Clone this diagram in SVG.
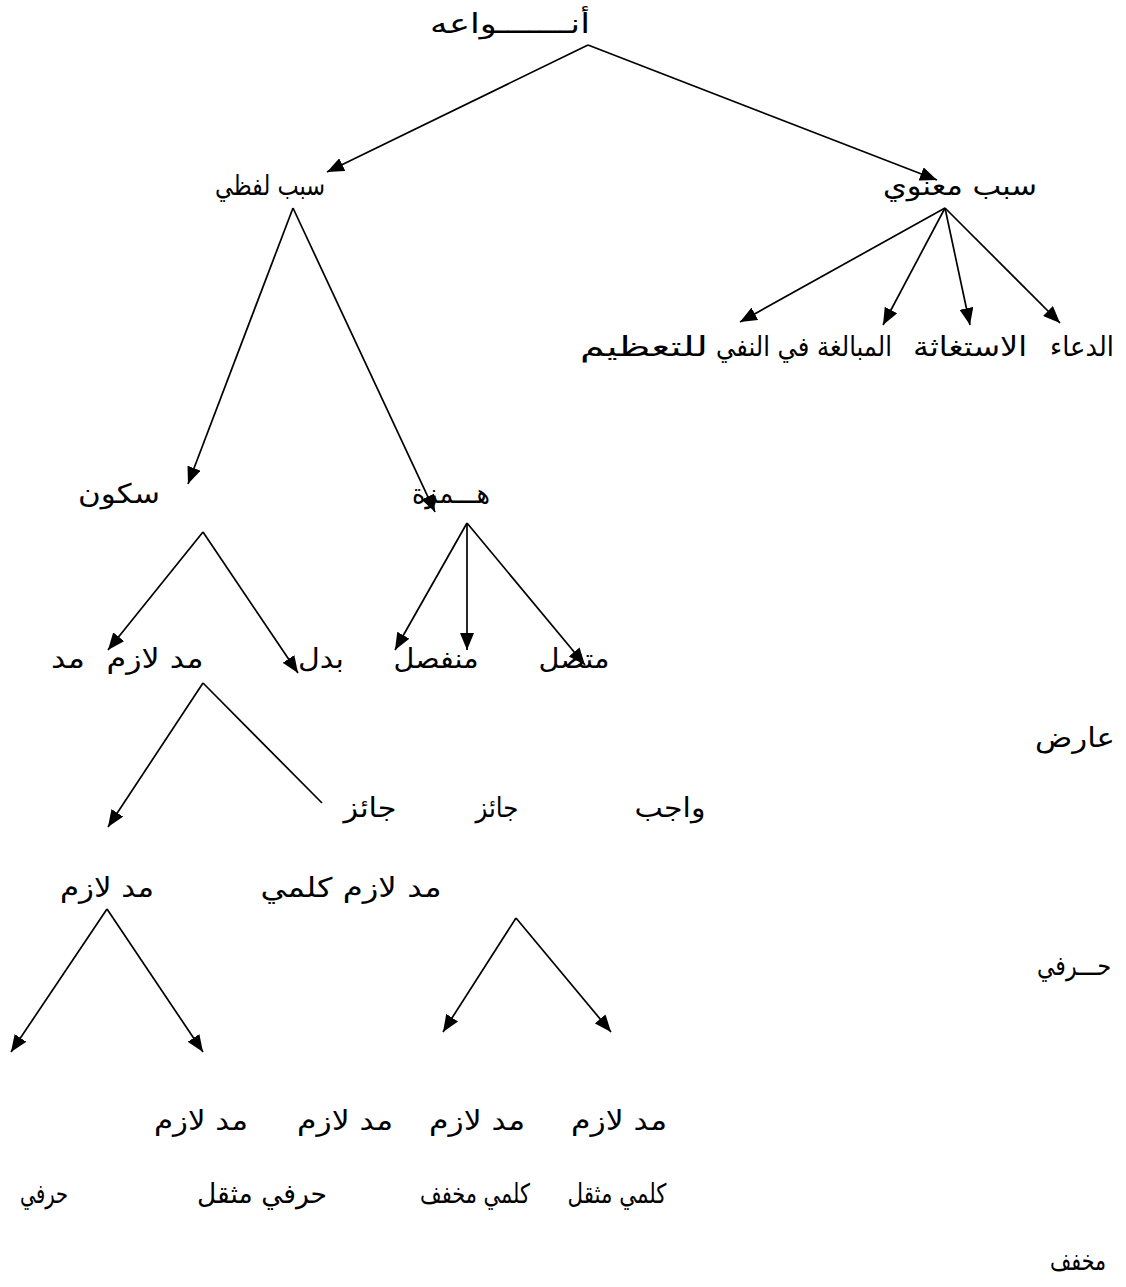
<svg xmlns="http://www.w3.org/2000/svg" width="1126" height="1287" viewBox="0 0 1126 1287">
<style>
text{font-family:"DejaVu Sans","Noto Sans",sans-serif;font-size:27px;fill:#000;text-anchor:middle;direction:rtl}
.c line{stroke:#000;stroke-width:1.7;fill:none}
.a{marker-end:url(#ah)}
</style>
<defs>
<marker id="ah" markerUnits="userSpaceOnUse" markerWidth="18" markerHeight="14" refX="17" refY="7" orient="auto">
<path d="M0,0 L17,7 L0,14 z" fill="#000"/>
</marker>
</defs>
<rect width="1126" height="1287" fill="#fff"/>
<g id="connectors" class="c">
<line class="a" x1="588" y1="45" x2="327" y2="172"/>
<line class="a" x1="588" y1="45" x2="937" y2="180"/>
<line class="a" x1="293" y1="208" x2="188" y2="484"/>
<line class="a" x1="293" y1="208" x2="435" y2="512"/>
<line class="a" x1="945" y1="208" x2="740" y2="322"/>
<line class="a" x1="945" y1="208" x2="883" y2="325"/>
<line class="a" x1="945" y1="208" x2="970" y2="325"/>
<line class="a" x1="945" y1="208" x2="1060" y2="323"/>
<line class="a" x1="203" y1="532" x2="108" y2="650"/>
<line class="a" x1="203" y1="532" x2="298" y2="673"/>
<line class="a" x1="467" y1="523" x2="395" y2="650"/>
<line class="a" x1="467" y1="523" x2="467" y2="650"/>
<line class="a" x1="467" y1="523" x2="585" y2="665"/>
<line class="a" x1="203" y1="683" x2="108" y2="827"/>
<line x1="203" y1="683" x2="322" y2="803"/>
<line class="a" x1="107" y1="909" x2="11" y2="1052"/>
<line class="a" x1="107" y1="909" x2="203" y2="1052"/>
<line class="a" x1="516" y1="918" x2="443" y2="1032"/>
<line class="a" x1="516" y1="918" x2="611" y2="1032"/>
</g>
<g id="n-anwa"><text x="510" y="33" textLength="160" lengthAdjust="spacingAndGlyphs">أنـــــــواعه</text></g>
<g id="n-lafzi"><text x="270" y="195" textLength="110" lengthAdjust="spacingAndGlyphs">سبب لفظي</text></g>
<g id="n-manawi"><text x="960" y="195" textLength="154" lengthAdjust="spacingAndGlyphs">سبب معنوي</text></g>
<g id="n-duaa"><text x="1082" y="356" textLength="64" lengthAdjust="spacingAndGlyphs">الدعاء</text></g>
<g id="n-istighatha"><text x="970" y="356" textLength="114" lengthAdjust="spacingAndGlyphs">الاستغاثة</text></g>
<g id="n-mubalagha"><text x="804" y="356" textLength="176" lengthAdjust="spacingAndGlyphs">المبالغة في النفي</text></g>
<g id="n-tazim"><text x="644" y="356" textLength="128" lengthAdjust="spacingAndGlyphs">للتعظيم</text></g>
<g id="n-sukun"><text x="119" y="503" textLength="82" lengthAdjust="spacingAndGlyphs">سكون</text></g>
<g id="n-hamza"><text x="451" y="503" textLength="78" lengthAdjust="spacingAndGlyphs">هـــمزة</text></g>
<g id="n-madd-lazim-1"><text x="155" y="668" textLength="97" lengthAdjust="spacingAndGlyphs">مد لازم</text><text x="68" y="668" textLength="34" lengthAdjust="spacingAndGlyphs">مد</text></g>
<g id="n-badal"><text x="321" y="668" textLength="46" lengthAdjust="spacingAndGlyphs">بدل</text></g>
<g id="n-munfasil"><text x="436" y="668" textLength="85" lengthAdjust="spacingAndGlyphs">منفصل</text></g>
<g id="n-muttasil"><text x="574" y="668" textLength="71" lengthAdjust="spacingAndGlyphs">متصل</text></g>
<g id="n-arid"><text x="1075" y="747" textLength="80" lengthAdjust="spacingAndGlyphs">عارض</text></g>
<g id="n-jaiz1"><text x="370" y="817" textLength="53" lengthAdjust="spacingAndGlyphs">جائز</text></g>
<g id="n-jaiz2"><text x="497" y="817" textLength="43" lengthAdjust="spacingAndGlyphs">جائز</text></g>
<g id="n-wajib"><text x="670" y="817" textLength="71" lengthAdjust="spacingAndGlyphs">واجب</text></g>
<g id="n-madd-lazim-2"><text x="107" y="897" textLength="94" lengthAdjust="spacingAndGlyphs">مد لازم</text></g>
<g id="n-kalimi"><text x="351" y="897" textLength="181" lengthAdjust="spacingAndGlyphs">مد لازم كلمي</text></g>
<g id="n-harfi"><text x="1074" y="975" textLength="74" lengthAdjust="spacingAndGlyphs">حـــرفي</text></g>
<g id="n-b1"><text x="619" y="1130" textLength="96" lengthAdjust="spacingAndGlyphs">مد لازم</text><text x="617" y="1203" textLength="99" lengthAdjust="spacingAndGlyphs">كلمي مثقل</text></g>
<g id="n-b2"><text x="477" y="1130" textLength="96" lengthAdjust="spacingAndGlyphs">مد لازم</text><text x="475" y="1203" textLength="110" lengthAdjust="spacingAndGlyphs">كلمي مخفف</text></g>
<g id="n-b3"><text x="345" y="1130" textLength="96" lengthAdjust="spacingAndGlyphs">مد لازم</text><text x="262" y="1203" textLength="130" lengthAdjust="spacingAndGlyphs">حرفي مثقل</text></g>
<g id="n-b4"><text x="201" y="1130" textLength="94" lengthAdjust="spacingAndGlyphs">مد لازم</text><text x="44" y="1203" textLength="48" lengthAdjust="spacingAndGlyphs">حرفي</text></g>
<g id="n-mukhaffaf"><text x="1078" y="1270" textLength="56" lengthAdjust="spacingAndGlyphs">مخفف</text></g>
</svg>
